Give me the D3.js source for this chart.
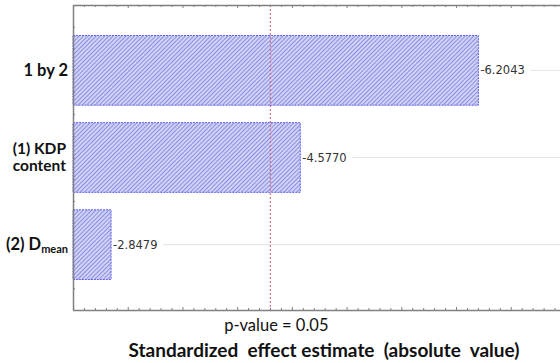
<!DOCTYPE html>
<html>
<head>
<meta charset="utf-8">
<script src="https://cdn.jsdelivr.net/npm/d3@7/dist/d3.min.js"></script>
<style>
  html, body { margin: 0; padding: 0; background: #fff; }
  svg { display: block; }
</style>
</head>
<body>
<svg id="chart" width="560" height="363"></svg>
<script>
// Pareto chart of standardized effects
const effects = ["1 by 2", "(1) KDP content", "(2) Dmean"];
const estimates = [-6.2043, -4.5770, -2.8479];
const pCritical = 4.303;          // t value at p = 0.05
const pLabel = "p-value = 0.05";
const xDomain = [2.5, 6.95];
const xTitle = "Standardized  effect estimate  (absolute  value)";

const W = 560, H = 363;
const m = { left: 73, top: 5, right: 0, bottom: 53 };
const svg = d3.select("#chart");

const x = d3.scaleLinear().domain(xDomain).range([m.left, W - m.right]);
const y = d3.scaleBand().domain(effects).range([m.top, H - m.bottom])
  .paddingInner(0.2).paddingOuter(0.35);

// hatch pattern for bars
const defs = svg.append("defs");
const pat = defs.append("pattern").attr("id", "hatch")
  .attr("patternUnits", "userSpaceOnUse").attr("width", 3).attr("height", 3)
  .attr("patternTransform", "rotate(45)");
pat.append("rect").attr("width", 3).attr("height", 3).attr("fill", "#d0d2f6");
pat.append("line").attr("x1", 0).attr("y1", 0).attr("x2", 0).attr("y2", 3)
  .attr("stroke", "#7478da").attr("stroke-width", 1.5);

const plotBottom = H - m.bottom;
const data = effects.map((e, i) => ({ e, v: estimates[i] }));

// leader lines from value labels to right edge
svg.append("g").selectAll("line").data(data).join("line")
  .attr("x1", d => x(Math.abs(d.v)) + 52).attr("x2", W)
  .attr("y1", d => y(d.e) + y.bandwidth() / 2).attr("y2", d => y(d.e) + y.bandwidth() / 2)
  .attr("stroke", "#e4e4e4").attr("stroke-width", 1);

// bars
svg.append("g").selectAll("rect").data(data).join("rect")
  .attr("x", x.range()[0])
  .attr("y", d => y(d.e))
  .attr("width", d => x(Math.abs(d.v)) - x.range()[0])
  .attr("height", y.bandwidth())
  .attr("fill", "url(#hatch)")
  .attr("stroke", "#6262f0").attr("stroke-width", 1)
  .attr("stroke-dasharray", "2,1");

// value labels
svg.append("g").selectAll("text").data(data).join("text")
  .attr("x", d => x(Math.abs(d.v)) + 2)
  .attr("y", d => y(d.e) + y.bandwidth() / 2)
  .attr("dy", "0.35em")
  .attr("font-family", "'DejaVu Sans', Verdana, sans-serif")
  .attr("font-size", 11.5).attr("fill", "#333")
  .text(d => d3.format(".4f")(d.v).replace("−", "-"));

// significance line
svg.append("line")
  .attr("x1", x(pCritical)).attr("x2", x(pCritical))
  .attr("y1", m.top).attr("y2", plotBottom)
  .attr("stroke", "#e05a6a").attr("stroke-width", 1)
  .attr("stroke-dasharray", "2,2");

// frame and ticks
const frame = svg.append("g").attr("stroke", "#808080");
frame.append("line").attr("x1", m.left).attr("x2", W).attr("y1", m.top + 0.5).attr("y2", m.top + 0.5).attr("stroke-width", 1.5);
frame.append("line").attr("x1", m.left).attr("x2", W).attr("y1", plotBottom + 0.5).attr("y2", plotBottom + 0.5).attr("stroke-width", 1.5);
frame.append("line").attr("x1", m.left + 0.5).attr("x2", m.left + 0.5).attr("y1", m.top).attr("y2", plotBottom).attr("stroke-width", 1.5);

const minor = d3.range(Math.ceil(xDomain[0] * 10), Math.floor(xDomain[1] * 10) + 1).map(k => k / 10);
const isMajor = v => Math.abs(v * 2 - Math.round(v * 2)) < 1e-6;
frame.selectAll(".tb").data(minor).join("line")
  .attr("x1", d => x(d) + 0.5).attr("x2", d => x(d) + 0.5)
  .attr("y1", plotBottom).attr("y2", d => plotBottom - (isMajor(d) ? 3 : 2));
frame.selectAll(".tt").data(minor).join("line")
  .attr("x1", d => x(d) + 0.5).attr("x2", d => x(d) + 0.5)
  .attr("y1", m.top).attr("y2", d => m.top + (isMajor(d) ? 3 : 2));

const yl = d3.scaleLinear().domain([0, 14]).range([m.top, plotBottom]);
frame.selectAll(".tl").data(d3.range(1, 14)).join("line")
  .attr("x1", m.left).attr("x2", m.left + 2)
  .attr("y1", d => yl(d) + 0.5).attr("y2", d => yl(d) + 0.5);

// category labels
const labFont = "Lato, 'Open Sans', sans-serif";
const cat = svg.append("g").attr("font-family", labFont).attr("font-weight", 700)
  .attr("font-size", 16.5).attr("fill", "#111").attr("text-anchor", "end");
const cy = e => y(e) + y.bandwidth() / 2;
cat.append("text").attr("x", 68).attr("y", cy(effects[0])).attr("dy", "0.35em").text("1 by 2");
const t2 = cat.append("text").attr("x", 66).attr("y", cy(effects[1])).attr("font-size", 15.5);
t2.append("tspan").attr("x", 66).attr("dy", "-0.25em").text("(1) KDP");
t2.append("tspan").attr("x", 66).attr("dy", "1.15em").text("content");
const t3 = cat.append("text").attr("x", 68).attr("y", cy(effects[2])).attr("dy", "0.35em");
t3.append("tspan").text("(2) D");
t3.append("tspan").attr("font-size", 11).attr("dy", "0.25em").text("mean");

// axis texts
svg.append("text").attr("x", x(pCritical) + 6).attr("y", 331)
  .attr("text-anchor", "middle").attr("font-family", labFont).attr("font-size", 16.5)
  .attr("fill", "#111").text(pLabel);
svg.append("text").attr("x", 324).attr("y", 357)
  .attr("text-anchor", "middle").attr("font-family", labFont).attr("font-weight", 700)
  .attr("font-size", 19).attr("fill", "#111").attr("xml:space", "preserve").text(xTitle);
</script>
</body>
</html>
